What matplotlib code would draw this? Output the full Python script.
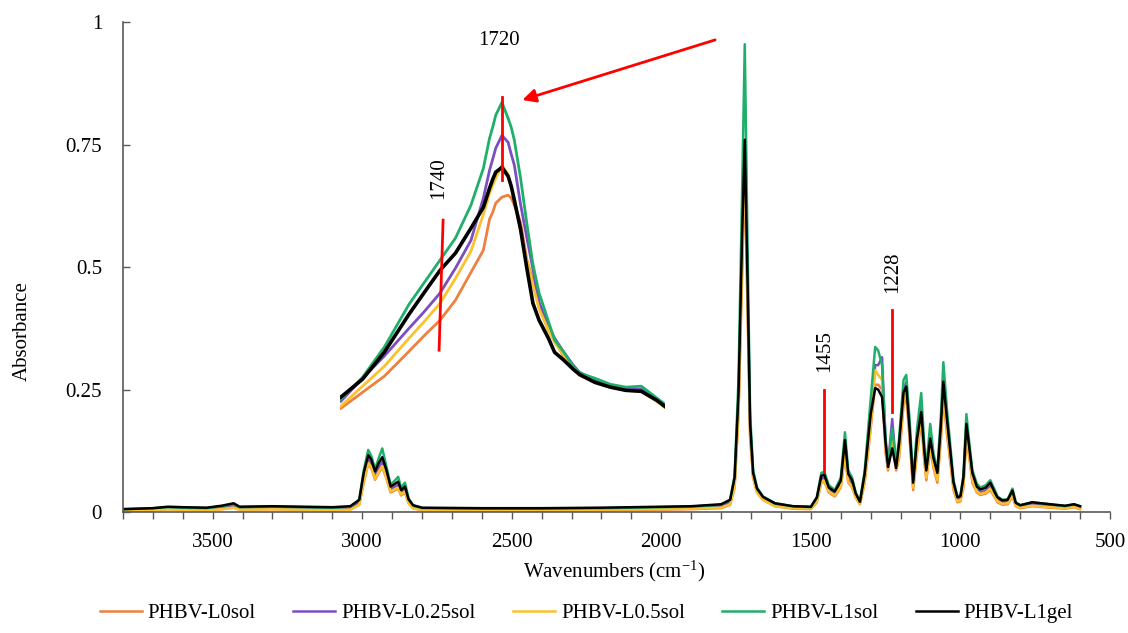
import numpy as np
import matplotlib.pyplot as plt
from matplotlib.ticker import MultipleLocator, FixedLocator

plt.rcParams["font.family"] = ["Liberation Serif", "DejaVu Serif"]
plt.rcParams["mathtext.fontset"] = "custom"
plt.rcParams["mathtext.rm"] = "Liberation Serif"
plt.rcParams["mathtext.default"] = "regular"

labels = ["PHBV-L0sol", "PHBV-L0.25sol", "PHBV-L0.5sol", "PHBV-L1sol", "PHBV-L1gel"]
colors = ["#EE8040", "#7B4FC0", "#FBC22E", "#1FAF6A", "#000000"]

# full FTIR spectra (cm-1, absorbance)
wn = [3800, 3700, 3650, 3600, 3520, 3470, 3430, 3410, 3300, 3200, 3100, 3040,
      3010, 2995, 2980, 2970, 2957, 2945, 2933, 2920, 2905, 2890, 2880, 2870,
      2857, 2845, 2830, 2800, 2600, 2400, 2200, 2000, 1900, 1800, 1770, 1755,
      1742, 1730, 1721, 1712, 1703, 1693, 1680, 1660, 1620, 1560, 1500, 1480,
      1465, 1455, 1440, 1420, 1400, 1386, 1375, 1362, 1350, 1336, 1320, 1300,
      1285, 1275, 1262, 1250, 1242, 1228, 1215, 1205, 1190, 1181, 1170, 1158,
      1145, 1131, 1120, 1114, 1101, 1090, 1077, 1065, 1057, 1045, 1023, 1010,
      1000, 990, 980, 970, 960, 945, 933, 915, 900, 885, 876, 860, 842, 826,
      815, 800, 760, 700, 650, 620, 600]

abs_l0 = [.003, .004, .006, .005, .004, .006, .009, .005, .006, .005, .004, .005,
          .015, .060, .098, .090, .066, .080, .092, .070, .040, .045, .048, .034,
          .040, .018, .008, .004, .003, .003, .004, .005, .006, .008, .015, .050,
          .200, .480, .700, .420, .150, .070, .040, .025, .012, .007, .006, .020,
          .060, .062, .040, .032, .050, .115, .060, .050, .030, .016, .060, .170,
          .260, .260, .250, .120, .085, .150, .085, .110, .220, .235, .150, .045,
          .120, .185, .100, .065, .130, .090, .060, .150, .235, .160, .045, .020,
          .022, .050, .150, .110, .060, .040, .035, .038, .045, .030, .020, .015,
          .016, .032, .012, .008, .012, .009, .007, .010, .006]
abs_l025 = [.005, .007, .009, .008, .007, .010, .014, .009, .010, .009, .008, .009,
            .020, .070, .108, .100, .074, .090, .102, .078, .046, .052, .055, .040,
            .046, .022, .011, .007, .006, .006, .007, .008, .009, .012, .020, .060,
            .220, .520, .750, .460, .170, .075, .044, .028, .015, .010, .009, .026,
            .068, .070, .046, .038, .058, .135, .070, .058, .034, .019, .070, .190,
            .300, .300, .316, .140, .095, .190, .095, .130, .250, .265, .170, .055,
            .140, .215, .115, .075, .150, .100, .070, .170, .270, .180, .055, .026,
            .028, .060, .170, .125, .070, .046, .040, .044, .052, .035, .025, .020,
            .021, .038, .016, .011, .016, .013, .010, .013, .009]
abs_l05 = [.003, .004, .006, .005, .004, .006, .009, .005, .006, .005, .004, .005,
           .015, .062, .100, .092, .068, .082, .094, .072, .042, .047, .050, .036,
           .042, .018, .008, .004, .003, .004, .005, .006, .007, .009, .016, .050,
           .200, .500, .740, .440, .160, .070, .040, .025, .012, .008, .007, .022,
           .062, .064, .042, .034, .052, .118, .062, .052, .030, .016, .062, .175,
           .290, .280, .270, .130, .088, .160, .088, .115, .230, .245, .160, .050,
           .125, .195, .105, .070, .135, .095, .065, .160, .245, .170, .050, .022,
           .024, .055, .160, .115, .065, .042, .037, .040, .048, .032, .022, .017,
           .018, .034, .013, .009, .013, .010, .008, .011, .007]
abs_l1 = [.006, .008, .010, .009, .008, .012, .016, .010, .011, .010, .009, .011,
          .025, .085, .127, .115, .088, .110, .130, .095, .056, .065, .072, .050,
          .060, .028, .014, .008, .007, .007, .008, .010, .011, .015, .025, .075,
          .270, .650, .955, .560, .200, .085, .050, .032, .018, .012, .010, .030,
          .080, .082, .055, .045, .070, .163, .085, .070, .040, .022, .085, .230,
          .337, .330, .300, .150, .100, .170, .100, .150, .270, .280, .190, .065,
          .170, .243, .130, .090, .180, .120, .085, .200, .306, .210, .065, .032,
          .034, .075, .200, .140, .085, .058, .050, .055, .065, .045, .032, .025,
          .026, .048, .020, .014, .020, .016, .012, .016, .012]
abs_l1gel = [.006, .008, .011, .010, .009, .013, .018, .011, .012, .011, .010, .012,
             .025, .080, .116, .108, .083, .100, .112, .088, .052, .058, .062, .045,
             .052, .026, .014, .009, .008, .008, .009, .011, .012, .016, .025, .070,
             .240, .560, .760, .480, .180, .080, .048, .031, .018, .012, .011, .030,
             .074, .076, .050, .042, .064, .147, .078, .065, .038, .021, .078, .200,
             .253, .250, .235, .140, .092, .130, .090, .140, .245, .256, .170, .060,
             .150, .204, .120, .085, .150, .110, .080, .180, .266, .190, .060, .030,
             .032, .070, .180, .130, .080, .052, .046, .050, .060, .040, .030, .024,
             .025, .044, .019, .014, .020, .016, .013, .016, .012]

# enlarged carbonyl band for the inset
wn_ins = [1772, 1765, 1758, 1750, 1745, 1740, 1735, 1730, 1726, 1724, 1723, 1722,
          1720, 1718, 1717, 1716, 1714, 1712, 1710, 1708, 1705, 1703, 1700, 1697,
          1695, 1690, 1685, 1680, 1675, 1670, 1667]
ins_l0 = [.000, .050, .100, .178, .228, .275, .338, .425, .494, .591, .612, .641,
          .660, .666, .657, .635, .582, .466, .400, .319, .244, .213, .160, .131,
          .103, .081, .066, .056, .053, .022, .000]
ins_l025 = [.022, .094, .163, .250, .303, .360, .438, .525, .657, .744, .778, .813,
            .853, .831, .794, .760, .638, .535, .435, .331, .260, .219, .175, .135,
            .113, .088, .069, .060, .060, .028, .007]
ins_l05 = [.007, .069, .131, .219, .272, .328, .406, .491, .606, .672, .697, .719,
           .760, .731, .691, .660, .553, .463, .385, .310, .244, .206, .166, .128,
           .106, .081, .066, .056, .053, .022, .000]
ins_l1 = [.028, .097, .191, .325, .394, .463, .532, .635, .750, .844, .878, .916,
          .956, .906, .878, .838, .720, .580, .450, .360, .272, .213, .175, .131,
          .110, .094, .075, .066, .069, .032, .010]
ins_l1gel = [.035, .091, .175, .294, .363, .431, .485, .563, .628, .688, .715, .738,
             .753, .725, .694, .650, .560, .440, .328, .275, .219, .175, .150, .122,
             .106, .081, .066, .056, .053, .025, .003]

series = [abs_l0, abs_l025, abs_l05, abs_l1, abs_l1gel]
series_ins = [ins_l0, ins_l025, ins_l05, ins_l1, ins_l1gel]

FS = 15

fig = plt.figure(figsize=(11.28, 6.33), dpi=100)
ax = fig.add_axes([0.109, 0.191, 0.875, 0.774])

for y, c, lab in zip(series, colors, labels):
    ax.plot(wn, y, color=c, lw=1.8, label=lab)

ax.set_xlim(3800, 500)
ax.set_ylim(0, 1)
ax.xaxis.set_major_locator(MultipleLocator(500))
ax.xaxis.set_minor_locator(MultipleLocator(100))
ax.yaxis.set_major_locator(FixedLocator([0, 0.25, 0.5, 0.75, 1]))
ax.set_yticklabels(["0", "0.25", "0.5", "0.75", "1"])
ax.tick_params(axis="x", which="both", direction="out", length=5, width=1,
               color="#595959", labelsize=FS, pad=10)
ax.tick_params(axis="y", direction="in", length=5, width=1, color="#595959",
               labelsize=FS, pad=15)
for s in ["top", "right"]:
    ax.spines[s].set_visible(False)
for s in ["left", "bottom"]:
    ax.spines[s].set_color("#595959")
    ax.spines[s].set_linewidth(1.2)

ax.set_xlabel("Wavenumbers (cm$^{-1}$)", fontsize=FS, va="center")
ax.xaxis.set_label_coords(0.498, -0.122)
ax.set_ylabel("Absorbance", fontsize=FS, va="center")
ax.yaxis.set_label_coords(-0.102, 0.369)

# band markers on the full spectrum
ax.plot([1455, 1455], [0.082, 0.249], color="red", lw=2)
ax.text(1455, 0.329, "1455", rotation=90, ha="center", va="center", fontsize=FS)
ax.plot([1228, 1228], [0.204, 0.412], color="red", lw=2)
ax.text(1228, 0.49, "1228", rotation=90, ha="center", va="center", fontsize=FS)

# inset: carbonyl region
axi = fig.add_axes([0.3014, 0.352, 0.288, 0.510])
for y, c in zip(series_ins, colors):
    axi.plot(wn_ins, y, color=c, lw=2.6 if c == "#000000" else 2.0,
             solid_joinstyle="round")
axi.set_xlim(1772.3, 1667.4)
axi.set_ylim(-0.006, 1.003)
axi.axis("off")
axi.plot([1720, 1720], [0.713, 0.972], color="red", lw=2)
axi.plot([1739.0, 1740.3], [0.588, 0.1815], color="red", lw=2)
axi.text(1740.5, 0.719, "1740", rotation=90, ha="center", va="center", fontsize=FS)
axi.text(1721, 1.150, "1720", ha="center", va="center", fontsize=FS, clip_on=False)

fig.add_artist(plt.Annotation("", xy=(0.463, 0.842), xytext=(0.634, 0.937),
                              xycoords="figure fraction", textcoords="figure fraction",
                              arrowprops=dict(arrowstyle="-|>", color="red", lw=2,
                                              mutation_scale=20, shrinkA=0, shrinkB=0)))

fig.legend(loc="center", bbox_to_anchor=(0.52, 0.031), ncol=5, frameon=False,
           fontsize=FS, handlelength=2.0, columnspacing=1.8, handletextpad=0.3)

fig.savefig("out.png", dpi=100)
